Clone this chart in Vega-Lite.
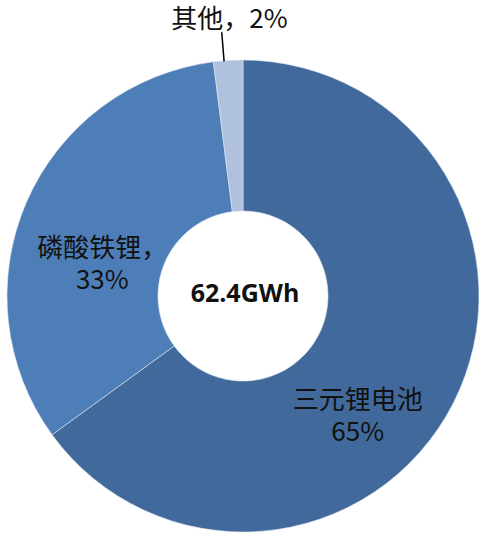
{
  "$schema": "https://vega.github.io/schema/vega-lite/v6.json",
  "width": 486,
  "height": 496,
  "autosize": {"type": "none"},
  "padding": {"left": 0, "right": 5, "top": 48, "bottom": 0},
  "background": "white",
  "config": {
    "view": {"stroke": null},
    "text": {"font": "Noto Sans CJK SC"}
  },
  "datasets": {
    "battery": [
      {"category": "三元锂电池", "share": 65},
      {"category": "磷酸铁锂", "share": 33},
      {"category": "其他", "share": 2}
    ],
    "total": [{"capacity": "62.4GWh"}]
  },
  "layer": [
    {
      "data": {"name": "battery"},
      "transform": [
        {"stack": "share", "groupby": [], "sort": [{"field": "share", "order": "descending"}], "as": ["s0", "s1"]},
        {"calculate": "(datum.s0 + datum.s1) / 2", "as": "mid"}
      ],
      "layer": [
        {
          "mark": {"type": "arc", "radius": 236, "innerRadius": 85, "stroke": "#dfe6f0", "strokeWidth": 0.6},
          "encoding": {
            "theta": {"field": "s0", "type": "quantitative", "scale": {"domain": [0, 100]}},
            "theta2": {"field": "s1"},
            "color": {
              "field": "category",
              "type": "nominal",
              "scale": {"domain": ["三元锂电池", "磷酸铁锂", "其他"], "range": ["#41699b", "#4e7eb8", "#b0c1dd"]},
              "legend": null
            }
          }
        },
        {
          "transform": [{"filter": "datum.category === '其他'"}],
          "mark": {"type": "arc", "radius": 264, "innerRadius": 236, "filled": false, "stroke": "#000000", "strokeWidth": 1.3, "thetaOffset": -0.018, "theta2Offset": -0.0172},
          "encoding": {
            "theta": {"field": "mid", "type": "quantitative"},
            "theta2": {"field": "mid"}
          }
        },
        {
          "transform": [
            {"filter": "datum.category === '三元锂电池'"},
            {"calculate": "datum.category + '\\n' + datum.share + '%'", "as": "label"}
          ],
          "mark": {"type": "text", "radius": 168, "dx": -35, "dy": 29, "fontSize": 26, "lineHeight": 32, "lineBreak": "\n", "color": "#111111"},
          "encoding": {
            "theta": {"field": "mid", "type": "quantitative"},
            "text": {"field": "label"}
          }
        },
        {
          "transform": [
            {"filter": "datum.category === '磷酸铁锂'"},
            {"calculate": "datum.category + '，\\n' + datum.share + '%'", "as": "label"}
          ],
          "mark": {"type": "text", "radius": 150, "dx": -3, "dy": 13, "fontSize": 26, "lineHeight": 32, "lineBreak": "\n", "color": "#111111"},
          "encoding": {
            "theta": {"field": "mid", "type": "quantitative"},
            "text": {"field": "label"}
          }
        },
        {
          "transform": [
            {"filter": "datum.category === '其他'"},
            {"calculate": "datum.category + '，' + datum.share + '%'", "as": "label"}
          ],
          "mark": {"type": "text", "radius": 278, "dx": 4, "dy": 1, "fontSize": 26, "color": "#111111"},
          "encoding": {
            "theta": {"field": "mid", "type": "quantitative"},
            "text": {"field": "label"}
          }
        }
      ]
    },
    {
      "data": {"name": "total"},
      "mark": {"type": "text", "font": "Open Sans", "fontSize": 25, "fontWeight": "bold", "dx": 2, "dy": -2, "color": "#111111"},
      "encoding": {"text": {"field": "capacity"}}
    }
  ]
}
